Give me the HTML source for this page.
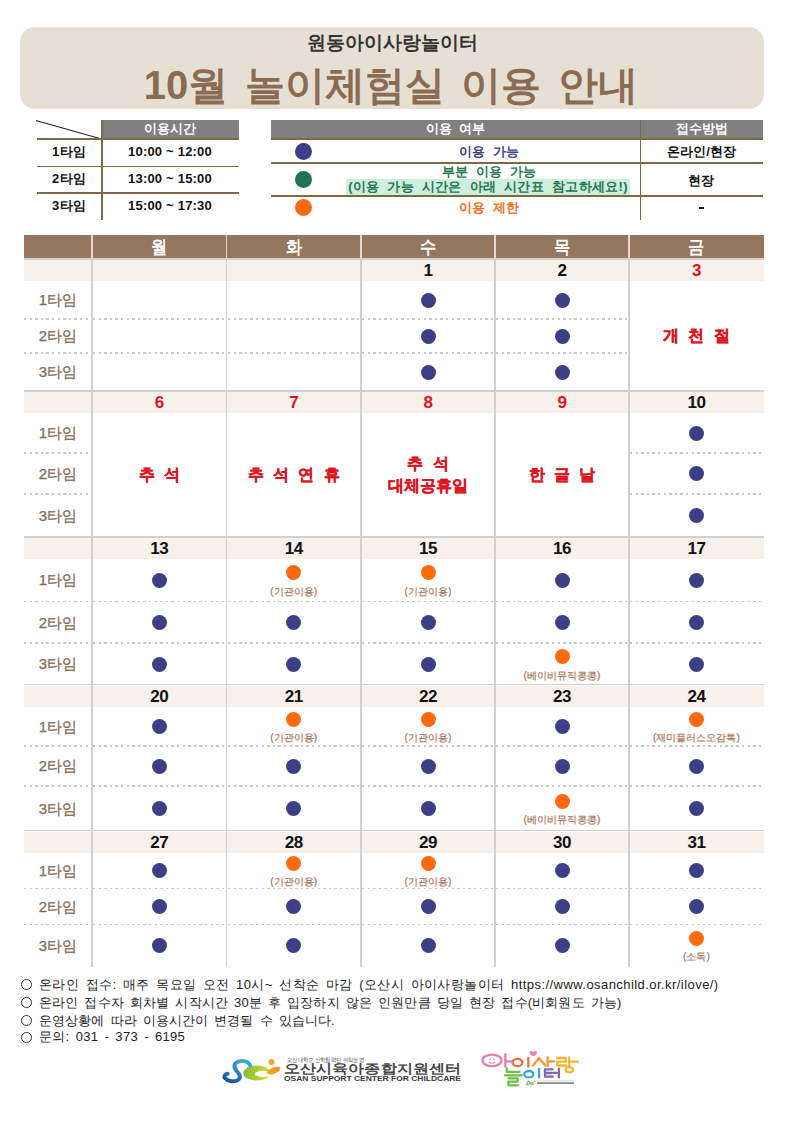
<!DOCTYPE html>
<html lang="ko"><head><meta charset="utf-8"><title>10월 놀이체험실 이용 안내</title>
<style>
html,body{margin:0;padding:0;background:#fff;}
body{width:793px;height:1122px;position:relative;overflow:hidden;font-family:"Liberation Sans",sans-serif;color:#222;}
.a{position:absolute;}
.t{position:absolute;white-space:nowrap;text-align:center;}
.hdr{left:20px;top:27px;width:744px;height:82px;border-radius:15px;background:#E6E0D4;}
.sub{left:20px;width:744px;top:30px;height:26px;line-height:26px;font-size:19px;font-weight:bold;color:#333;}
.ttl{top:61px;height:48px;line-height:48px;font-size:40px;font-weight:bold;color:#8B6B52;word-spacing:10px;}
.gh{background:#808080;}
.bl{background:#7A6A45;}
.th{color:#fff;font-weight:bold;font-size:13px;}
.tb{color:#111;font-weight:bold;font-size:13px;letter-spacing:0.2px;}
.dot{position:absolute;width:15px;height:15px;border-radius:50%;}
.nv{background:#3C3F86;}
.og{background:#FF6A0E;}
.gr{background:#1F7553;}
.ch{background:#957760;}
.dr{background:#F8F0EA;}
.vl{background:#D0D0D0;}
.hl{background:#D0D0D0;}
.dl{height:1.5px;background:repeating-linear-gradient(90deg,#C8C8C8 0,#C8C8C8 2.4px,transparent 2.4px,transparent 5.6px);}
.lab{color:#836A56;font-size:15px;-webkit-text-stroke:0.25px #836A56;}
.dt{color:#111;font-weight:bold;font-size:17px;letter-spacing:-0.4px;}
.red{color:#E0141E;}
.hol{color:#E0141E;font-weight:bold;font-size:16px;word-spacing:5px;-webkit-text-stroke:0.3px #E0141E;}
.ol{color:#A66C4E;font-size:10.3px;-webkit-text-stroke:0.15px #A66C4E;}
.ft{left:20px;font-size:13px;color:#222;text-align:left;}
</style></head><body>

<div class="a hdr"></div>
<div class="t sub">원동아이사랑놀이터</div>
<div class="t ttl" style="left:66px;width:240px">10월</div>
<div class="t ttl" style="left:224.5px;width:240px">놀이체험실</div>
<div class="t ttl" style="left:381px;width:240px">이용</div>
<div class="t ttl" style="left:478px;width:240px">안내</div>
<div class="a gh" style="left:101px;top:120px;width:138px;height:18px"></div>
<div class="t th" style="left:101px;top:120px;width:138px;height:18px;line-height:18px">이용시간</div>
<svg class="a" style="left:0;top:0" width="793" height="230"><line x1="36" y1="120.5" x2="101.5" y2="139" stroke="#222" stroke-width="1.1"/></svg>
<div class="a bl" style="left:37px;top:138px;width:202px;height:1.7px"></div>
<div class="a bl" style="left:37px;top:165.8px;width:202px;height:1.7px"></div>
<div class="a bl" style="left:37px;top:192.2px;width:202px;height:1.7px"></div>
<div class="a bl" style="left:101px;top:120px;width:1.7px;height:100px"></div>
<div class="t tb" style="left:37px;top:139.2px;width:64px;height:26.0px;line-height:26.0px">1타임</div>
<div class="t tb" style="left:101px;top:139.2px;width:138px;height:26.0px;line-height:26.0px">10:00 ~ 12:00</div>
<div class="t tb" style="left:37px;top:166.2px;width:64px;height:26.0px;line-height:26.0px">2타임</div>
<div class="t tb" style="left:101px;top:166.2px;width:138px;height:26.0px;line-height:26.0px">13:00 ~ 15:00</div>
<div class="t tb" style="left:37px;top:192.7px;width:64px;height:26.0px;line-height:26.0px">3타임</div>
<div class="t tb" style="left:101px;top:192.7px;width:138px;height:26.0px;line-height:26.0px">15:00 ~ 17:30</div>
<div class="a gh" style="left:271px;top:120px;width:492px;height:18px"></div>
<div class="t th" style="left:271px;top:120px;width:369px;height:18px;line-height:18px;word-spacing:4px">이용 여부</div>
<div class="t th" style="left:640px;top:120px;width:123px;height:18px;line-height:18px">접수방법</div>
<div class="a bl" style="left:271px;top:138px;width:492px;height:1.7px"></div>
<div class="a bl" style="left:271px;top:162px;width:492px;height:1.7px"></div>
<div class="a bl" style="left:271px;top:194.9px;width:492px;height:1.7px"></div>
<div class="a bl" style="left:639.5px;top:120px;width:1.5px;height:100px"></div>
<div class="dot nv" style="left:295px;top:142.5px;width:17px;height:17px"></div>
<div class="dot gr" style="left:295px;top:170.8px;width:17px;height:17px"></div>
<div class="dot og" style="left:295px;top:199.2px;width:17px;height:17px"></div>
<div class="t" style="left:339px;top:144px;width:300px;height:16px;line-height:16px;font-size:13px;font-weight:bold;color:#3C3F86;word-spacing:4px">이용 가능</div>
<div class="t" style="left:339px;top:163.5px;width:300px;height:15px;line-height:15px;font-size:13px;font-weight:bold;color:#1F7553;word-spacing:4px">부분 이용 가능</div>
<div class="a" style="left:346px;top:179px;width:284px;height:15.5px;background:#CDEFDD"></div>
<div class="t" style="left:339px;top:178.5px;width:298px;height:16px;line-height:16px;font-size:13px;font-weight:bold;color:#1F7553;word-spacing:4px;letter-spacing:0.3px">(이용 가능 시간은 아래 시간표 참고하세요!)</div>
<div class="t" style="left:339px;top:200px;width:300px;height:16px;line-height:16px;font-size:13px;font-weight:bold;color:#F07020;word-spacing:4px">이용 제한</div>
<div class="t tb" style="left:640px;top:140px;width:123px;height:23px;line-height:23px">온라인/현장</div>
<div class="t tb" style="left:640px;top:164.5px;width:123px;height:32px;line-height:32px">현장</div>
<div class="a" style="left:698.5px;top:206.5px;width:5.5px;height:2.2px;background:#111"></div>
<div class="a ch" style="left:24px;top:235px;width:740px;height:23px"></div>
<div class="t" style="left:92px;top:236px;width:134.5px;height:23px;line-height:23px;color:#fff;font-weight:bold;font-size:17.5px;transform:scaleX(0.9)">월</div>
<div class="t" style="left:226.5px;top:236px;width:134.5px;height:23px;line-height:23px;color:#fff;font-weight:bold;font-size:17.5px;transform:scaleX(0.9)">화</div>
<div class="t" style="left:361px;top:236px;width:134px;height:23px;line-height:23px;color:#fff;font-weight:bold;font-size:17.5px;transform:scaleX(0.9)">수</div>
<div class="t" style="left:495px;top:236px;width:134px;height:23px;line-height:23px;color:#fff;font-weight:bold;font-size:17.5px;transform:scaleX(0.9)">목</div>
<div class="t" style="left:629px;top:236px;width:135px;height:23px;line-height:23px;color:#fff;font-weight:bold;font-size:17.5px;transform:scaleX(0.9)">금</div>
<div class="a hl" style="left:24px;top:258px;width:740px;height:1.5px"></div>
<div class="a vl" style="left:762.5px;top:258px;width:1.5px;height:23px"></div>
<div class="a dr" style="left:24px;top:259.5px;width:740px;height:21.5px"></div>
<div class="t dt" style="left:361px;top:259.5px;width:134px;height:21.5px;line-height:21.5px">1</div>
<div class="t dt" style="left:495px;top:259.5px;width:134px;height:21.5px;line-height:21.5px">2</div>
<div class="t dt red" style="left:629px;top:259.5px;width:135px;height:21.5px;line-height:21.5px">3</div>
<div class="t lab" style="left:24px;top:281px;width:68px;height:38px;line-height:38px">1타임</div>
<div class="t lab" style="left:24px;top:319px;width:68px;height:34px;line-height:34px">2타임</div>
<div class="t lab" style="left:24px;top:353px;width:68px;height:38px;line-height:38px">3타임</div>
<div class="a dl" style="left:24px;top:318px;width:68px"></div>
<div class="a dl" style="left:24px;top:352px;width:68px"></div>
<div class="a dl" style="left:93px;top:318px;width:133.5px"></div>
<div class="a dl" style="left:93px;top:352px;width:133.5px"></div>
<div class="a dl" style="left:227.5px;top:318px;width:133.5px"></div>
<div class="a dl" style="left:227.5px;top:352px;width:133.5px"></div>
<div class="a dl" style="left:362px;top:318px;width:133px"></div>
<div class="a dl" style="left:362px;top:352px;width:133px"></div>
<div class="dot nv" style="left:420.5px;top:292.5px"></div>
<div class="dot nv" style="left:420.5px;top:328.5px"></div>
<div class="dot nv" style="left:420.5px;top:364.5px"></div>
<div class="a dl" style="left:496px;top:318px;width:133px"></div>
<div class="a dl" style="left:496px;top:352px;width:133px"></div>
<div class="dot nv" style="left:554.5px;top:292.5px"></div>
<div class="dot nv" style="left:554.5px;top:328.5px"></div>
<div class="dot nv" style="left:554.5px;top:364.5px"></div>
<div class="t hol" style="left:629px;top:326px;width:135px;height:20px;line-height:20px">개 천 절</div>
<div class="a dr" style="left:24px;top:392px;width:740px;height:21px"></div>
<div class="a hl" style="left:24px;top:390.2px;width:740px;height:1.6px"></div>
<div class="t dt red" style="left:92px;top:392px;width:134.5px;height:21px;line-height:21px">6</div>
<div class="t dt red" style="left:226.5px;top:392px;width:134.5px;height:21px;line-height:21px">7</div>
<div class="t dt red" style="left:361px;top:392px;width:134px;height:21px;line-height:21px">8</div>
<div class="t dt red" style="left:495px;top:392px;width:134px;height:21px;line-height:21px">9</div>
<div class="t dt" style="left:629px;top:392px;width:135px;height:21px;line-height:21px">10</div>
<div class="t lab" style="left:24px;top:413px;width:68px;height:40px;line-height:40px">1타임</div>
<div class="t lab" style="left:24px;top:453px;width:68px;height:41px;line-height:41px">2타임</div>
<div class="t lab" style="left:24px;top:494px;width:68px;height:43px;line-height:43px">3타임</div>
<div class="a dl" style="left:24px;top:452px;width:68px"></div>
<div class="a dl" style="left:24px;top:493px;width:68px"></div>
<div class="t hol" style="left:92px;top:465px;width:134.5px;height:20px;line-height:20px">추 석</div>
<div class="t hol" style="left:226.5px;top:465px;width:134.5px;height:20px;line-height:20px">추 석 연 휴</div>
<div class="t hol" style="left:361px;top:454px;width:134px;height:20px;line-height:20px">추 석</div>
<div class="t hol" style="left:361px;top:476px;width:134px;height:20px;line-height:20px">대체공휴일</div>
<div class="t hol" style="left:495px;top:465px;width:134px;height:20px;line-height:20px">한 글 날</div>
<div class="a dl" style="left:630px;top:452px;width:134px"></div>
<div class="a dl" style="left:630px;top:493px;width:134px"></div>
<div class="dot nv" style="left:689px;top:425.5px"></div>
<div class="dot nv" style="left:689px;top:466px"></div>
<div class="dot nv" style="left:689px;top:508px"></div>
<div class="a dr" style="left:24px;top:538px;width:740px;height:21px"></div>
<div class="a hl" style="left:24px;top:536.2px;width:740px;height:1.6px"></div>
<div class="t dt" style="left:92px;top:538px;width:134.5px;height:21px;line-height:21px">13</div>
<div class="t dt" style="left:226.5px;top:538px;width:134.5px;height:21px;line-height:21px">14</div>
<div class="t dt" style="left:361px;top:538px;width:134px;height:21px;line-height:21px">15</div>
<div class="t dt" style="left:495px;top:538px;width:134px;height:21px;line-height:21px">16</div>
<div class="t dt" style="left:629px;top:538px;width:135px;height:21px;line-height:21px">17</div>
<div class="t lab" style="left:24px;top:559px;width:68px;height:42.5px;line-height:42.5px">1타임</div>
<div class="t lab" style="left:24px;top:601.5px;width:68px;height:41.5px;line-height:41.5px">2타임</div>
<div class="t lab" style="left:24px;top:643px;width:68px;height:42px;line-height:42px">3타임</div>
<div class="a dl" style="left:24px;top:600.5px;width:68px"></div>
<div class="a dl" style="left:24px;top:642px;width:68px"></div>
<div class="a dl" style="left:93px;top:600.5px;width:133.5px"></div>
<div class="a dl" style="left:93px;top:642px;width:133.5px"></div>
<div class="dot nv" style="left:151.75px;top:572.75px"></div>
<div class="dot nv" style="left:151.75px;top:614.75px"></div>
<div class="dot nv" style="left:151.75px;top:656.5px"></div>
<div class="a dl" style="left:227.5px;top:600.5px;width:133.5px"></div>
<div class="a dl" style="left:227.5px;top:642px;width:133.5px"></div>
<div class="dot og" style="left:286.25px;top:565.25px"></div>
<div class="t ol" style="left:226.5px;top:585.75px;width:134.5px;height:12px;line-height:12px">(기관이용)</div>
<div class="dot nv" style="left:286.25px;top:614.75px"></div>
<div class="dot nv" style="left:286.25px;top:656.5px"></div>
<div class="a dl" style="left:362px;top:600.5px;width:133px"></div>
<div class="a dl" style="left:362px;top:642px;width:133px"></div>
<div class="dot og" style="left:420.5px;top:565.25px"></div>
<div class="t ol" style="left:361px;top:585.75px;width:134px;height:12px;line-height:12px">(기관이용)</div>
<div class="dot nv" style="left:420.5px;top:614.75px"></div>
<div class="dot nv" style="left:420.5px;top:656.5px"></div>
<div class="a dl" style="left:496px;top:600.5px;width:133px"></div>
<div class="a dl" style="left:496px;top:642px;width:133px"></div>
<div class="dot nv" style="left:554.5px;top:572.75px"></div>
<div class="dot nv" style="left:554.5px;top:614.75px"></div>
<div class="dot og" style="left:554.5px;top:649px"></div>
<div class="t ol" style="left:495px;top:669.5px;width:134px;height:12px;line-height:12px">(베이비뮤직콩콩)</div>
<div class="a dl" style="left:630px;top:600.5px;width:134px"></div>
<div class="a dl" style="left:630px;top:642px;width:134px"></div>
<div class="dot nv" style="left:689px;top:572.75px"></div>
<div class="dot nv" style="left:689px;top:614.75px"></div>
<div class="dot nv" style="left:689px;top:656.5px"></div>
<div class="a dr" style="left:24px;top:685.5px;width:740px;height:21.5px"></div>
<div class="a hl" style="left:24px;top:683.7px;width:740px;height:1.6px"></div>
<div class="t dt" style="left:92px;top:685.5px;width:134.5px;height:21.5px;line-height:21.5px">20</div>
<div class="t dt" style="left:226.5px;top:685.5px;width:134.5px;height:21.5px;line-height:21.5px">21</div>
<div class="t dt" style="left:361px;top:685.5px;width:134px;height:21.5px;line-height:21.5px">22</div>
<div class="t dt" style="left:495px;top:685.5px;width:134px;height:21.5px;line-height:21.5px">23</div>
<div class="t dt" style="left:629px;top:685.5px;width:135px;height:21.5px;line-height:21.5px">24</div>
<div class="t lab" style="left:24px;top:707px;width:68px;height:39px;line-height:39px">1타임</div>
<div class="t lab" style="left:24px;top:746px;width:68px;height:40px;line-height:40px">2타임</div>
<div class="t lab" style="left:24px;top:786px;width:68px;height:45px;line-height:45px">3타임</div>
<div class="a dl" style="left:24px;top:745px;width:68px"></div>
<div class="a dl" style="left:24px;top:785px;width:68px"></div>
<div class="a dl" style="left:93px;top:745px;width:133.5px"></div>
<div class="a dl" style="left:93px;top:785px;width:133.5px"></div>
<div class="dot nv" style="left:151.75px;top:719px"></div>
<div class="dot nv" style="left:151.75px;top:758.5px"></div>
<div class="dot nv" style="left:151.75px;top:801px"></div>
<div class="a dl" style="left:227.5px;top:745px;width:133.5px"></div>
<div class="a dl" style="left:227.5px;top:785px;width:133.5px"></div>
<div class="dot og" style="left:286.25px;top:711.5px"></div>
<div class="t ol" style="left:226.5px;top:732px;width:134.5px;height:12px;line-height:12px">(기관이용)</div>
<div class="dot nv" style="left:286.25px;top:758.5px"></div>
<div class="dot nv" style="left:286.25px;top:801px"></div>
<div class="a dl" style="left:362px;top:745px;width:133px"></div>
<div class="a dl" style="left:362px;top:785px;width:133px"></div>
<div class="dot og" style="left:420.5px;top:711.5px"></div>
<div class="t ol" style="left:361px;top:732px;width:134px;height:12px;line-height:12px">(기관이용)</div>
<div class="dot nv" style="left:420.5px;top:758.5px"></div>
<div class="dot nv" style="left:420.5px;top:801px"></div>
<div class="a dl" style="left:496px;top:745px;width:133px"></div>
<div class="a dl" style="left:496px;top:785px;width:133px"></div>
<div class="dot nv" style="left:554.5px;top:719px"></div>
<div class="dot nv" style="left:554.5px;top:758.5px"></div>
<div class="dot og" style="left:554.5px;top:793.5px"></div>
<div class="t ol" style="left:495px;top:814px;width:134px;height:12px;line-height:12px">(베이비뮤직콩콩)</div>
<div class="a dl" style="left:630px;top:745px;width:134px"></div>
<div class="a dl" style="left:630px;top:785px;width:134px"></div>
<div class="dot og" style="left:689px;top:711.5px"></div>
<div class="t ol" style="left:629px;top:732px;width:135px;height:12px;line-height:12px">(재미플러스오감톡)</div>
<div class="dot nv" style="left:689px;top:758.5px"></div>
<div class="dot nv" style="left:689px;top:801px"></div>
<div class="a dr" style="left:24px;top:831.5px;width:740px;height:21.5px"></div>
<div class="a hl" style="left:24px;top:829.7px;width:740px;height:1.6px"></div>
<div class="t dt" style="left:92px;top:831.5px;width:134.5px;height:21.5px;line-height:21.5px">27</div>
<div class="t dt" style="left:226.5px;top:831.5px;width:134.5px;height:21.5px;line-height:21.5px">28</div>
<div class="t dt" style="left:361px;top:831.5px;width:134px;height:21.5px;line-height:21.5px">29</div>
<div class="t dt" style="left:495px;top:831.5px;width:134px;height:21.5px;line-height:21.5px">30</div>
<div class="t dt" style="left:629px;top:831.5px;width:135px;height:21.5px;line-height:21.5px">31</div>
<div class="t lab" style="left:24px;top:853px;width:68px;height:35.5px;line-height:35.5px">1타임</div>
<div class="t lab" style="left:24px;top:888.5px;width:68px;height:36px;line-height:36px">2타임</div>
<div class="t lab" style="left:24px;top:924.5px;width:68px;height:42.5px;line-height:42.5px">3타임</div>
<div class="a dl" style="left:24px;top:887.5px;width:68px"></div>
<div class="a dl" style="left:24px;top:923.5px;width:68px"></div>
<div class="a dl" style="left:93px;top:887.5px;width:133.5px"></div>
<div class="a dl" style="left:93px;top:923.5px;width:133.5px"></div>
<div class="dot nv" style="left:151.75px;top:863.25px"></div>
<div class="dot nv" style="left:151.75px;top:899px"></div>
<div class="dot nv" style="left:151.75px;top:938.25px"></div>
<div class="a dl" style="left:227.5px;top:887.5px;width:133.5px"></div>
<div class="a dl" style="left:227.5px;top:923.5px;width:133.5px"></div>
<div class="dot og" style="left:286.25px;top:855.75px"></div>
<div class="t ol" style="left:226.5px;top:876.25px;width:134.5px;height:12px;line-height:12px">(기관이용)</div>
<div class="dot nv" style="left:286.25px;top:899px"></div>
<div class="dot nv" style="left:286.25px;top:938.25px"></div>
<div class="a dl" style="left:362px;top:887.5px;width:133px"></div>
<div class="a dl" style="left:362px;top:923.5px;width:133px"></div>
<div class="dot og" style="left:420.5px;top:855.75px"></div>
<div class="t ol" style="left:361px;top:876.25px;width:134px;height:12px;line-height:12px">(기관이용)</div>
<div class="dot nv" style="left:420.5px;top:899px"></div>
<div class="dot nv" style="left:420.5px;top:938.25px"></div>
<div class="a dl" style="left:496px;top:887.5px;width:133px"></div>
<div class="a dl" style="left:496px;top:923.5px;width:133px"></div>
<div class="dot nv" style="left:554.5px;top:863.25px"></div>
<div class="dot nv" style="left:554.5px;top:899px"></div>
<div class="dot nv" style="left:554.5px;top:938.25px"></div>
<div class="a dl" style="left:630px;top:887.5px;width:134px"></div>
<div class="a dl" style="left:630px;top:923.5px;width:134px"></div>
<div class="dot nv" style="left:689px;top:863.25px"></div>
<div class="dot nv" style="left:689px;top:899px"></div>
<div class="dot og" style="left:689px;top:930.75px"></div>
<div class="t ol" style="left:629px;top:951.25px;width:135px;height:12px;line-height:12px">(소독)</div>
<div class="a vl" style="left:91.25px;top:258px;width:1.5px;height:709px"></div>
<div class="a" style="left:91.25px;top:235px;width:1.5px;height:23px;background:#E6DACE"></div>
<div class="a vl" style="left:225.75px;top:258px;width:1.5px;height:709px"></div>
<div class="a" style="left:225.75px;top:235px;width:1.5px;height:23px;background:#E6DACE"></div>
<div class="a vl" style="left:360.25px;top:258px;width:1.5px;height:709px"></div>
<div class="a" style="left:360.25px;top:235px;width:1.5px;height:23px;background:#E6DACE"></div>
<div class="a vl" style="left:494.25px;top:258px;width:1.5px;height:709px"></div>
<div class="a" style="left:494.25px;top:235px;width:1.5px;height:23px;background:#E6DACE"></div>
<div class="a vl" style="left:628.25px;top:258px;width:1.5px;height:709px"></div>
<div class="a" style="left:628.25px;top:235px;width:1.5px;height:23px;background:#E6DACE"></div>
<div class="a" style="left:20.5px;top:979px;width:11px;height:11px;border:1px solid #333;border-radius:50%;box-sizing:border-box"></div>
<div class="t ft" id="ft0" style="left:39px;top:975.5px;height:18px;line-height:18px;word-spacing:2.3px;letter-spacing:0.44px">온라인 접수: 매주 목요일 오전 10시~ 선착순 마감 (오산시 아이사랑놀이터 https://www.osanchild.or.kr/ilove/)</div>
<div class="a" style="left:20.5px;top:997.2px;width:11px;height:11px;border:1px solid #333;border-radius:50%;box-sizing:border-box"></div>
<div class="t ft" id="ft1" style="left:39px;top:993.7px;height:18px;line-height:18px;word-spacing:2.3px;letter-spacing:0.14px">온라인 접수자 회차별 시작시간 30분 후 입장하지 않은 인원만큼 당일 현장 접수(비회원도 가능)</div>
<div class="a" style="left:20.5px;top:1015.3px;width:11px;height:11px;border:1px solid #333;border-radius:50%;box-sizing:border-box"></div>
<div class="t ft" id="ft2" style="left:39px;top:1011.8px;height:18px;line-height:18px;word-spacing:2.3px;letter-spacing:0.1px">운영상황에 따라 이용시간이 변경될 수 있습니다.</div>
<div class="a" style="left:20.5px;top:1031.7px;width:11px;height:11px;border:1px solid #333;border-radius:50%;box-sizing:border-box"></div>
<div class="t ft" id="ft3" style="left:39px;top:1028.2px;height:18px;line-height:18px;word-spacing:2.3px;letter-spacing:0.3px">문의: 031 - 373 - 6195</div>
<svg class="a" style="left:218px;top:1050px" width="70" height="35" viewBox="0 0 70 35">
<defs>
<linearGradient id="gb" x1="0" y1="1" x2="0.6" y2="0"><stop offset="0" stop-color="#1C4F98"/><stop offset="1" stop-color="#39A6DD"/></linearGradient>
<linearGradient id="gg" x1="0" y1="0" x2="1" y2="0"><stop offset="0" stop-color="#7DBE3A"/><stop offset="1" stop-color="#D7E12A"/></linearGradient>
<linearGradient id="go" x1="0" y1="1" x2="1" y2="0"><stop offset="0" stop-color="#F6B21E"/><stop offset="1" stop-color="#F08A1E"/></linearGradient>
</defs>
<ellipse cx="38.8" cy="23" rx="13.6" ry="7.6" fill="url(#gg)"/>
<ellipse cx="45.5" cy="23.9" rx="8.6" ry="3.1" fill="#fff"/>
<path d="M32.3 15.6 C30 11 25 10.3 21 11.4 C16 12.8 15 16.5 18.5 20.8 C21.5 24.2 24 27.5 19.5 30.2 C15 32.3 9.5 31 6.8 28 C5.6 26.4 6.8 24.2 9.6 23.8" fill="none" stroke="url(#gb)" stroke-width="3.9" stroke-linecap="round"/>
<circle cx="53.5" cy="12.1" r="3" fill="#F5A524"/>
<path d="M48.3 22.2 C52 18.3 58 15.6 62 17.4 C63.3 20 58.5 23.8 51.5 24.8 Z" fill="url(#go)"/>
</svg>
<svg class="a" style="left:280px;top:1052px" width="190" height="32" viewBox="0 0 190 32">
<text x="7" y="9.5" font-family="Liberation Sans, sans-serif" font-size="5.5" fill="#555" textLength="77" lengthAdjust="spacingAndGlyphs">오산대학교 산학협력단 위탁운영</text>
<text x="4" y="21" font-family="Liberation Sans, sans-serif" font-size="12.5" font-weight="bold" fill="#444" textLength="177" lengthAdjust="spacingAndGlyphs">오산시육아종합지원센터</text>
<text x="4" y="28.6" font-family="Liberation Sans, sans-serif" font-size="7" font-weight="bold" fill="#3A3A3A" textLength="177" lengthAdjust="spacingAndGlyphs">OSAN SUPPORT CENTER FOR CHILDCARE</text>
</svg>
<svg class="a" style="left:478px;top:1046px" width="104" height="44" viewBox="0 0 104 44">
<g fill="none" stroke-linecap="round" stroke-linejoin="round">
<g stroke="#E57DB6" stroke-width="2.3">
<ellipse cx="14" cy="14.4" rx="9.5" ry="5.8"/>
<path d="M27.3 8.3 V20.8"/><path d="M28.2 15.3 H33.5"/>
</g>
<path d="M11.2 16.2 Q14 18.2 16.8 16.2" stroke="#E57DB6" stroke-width="1.1"/>
<g stroke="#EC6F45" stroke-width="2.3">
<ellipse cx="39.5" cy="16.5" rx="4.9" ry="3.7"/>
<path d="M50.3 11.8 V20.6"/>
</g>
<g stroke="#F29A2E" stroke-width="2.3">
<path d="M61 12 L55 19.6 M61 12 L67.3 19.6"/>
<path d="M69.6 11.4 V20.2"/><path d="M70.5 15.3 H76"/>
</g>
<g stroke="#F5B436" stroke-width="2.3">
<path d="M79 12 H87.8 V15.7 H79.2 V19.5 H88.5"/>
<path d="M91.2 11.4 V20.6"/><path d="M92.2 15.7 H100"/>
<ellipse cx="91.3" cy="23.8" rx="3.9" ry="2.6"/>
</g>
<g stroke="#6DBE45" stroke-width="2.3">
<path d="M28.8 22.4 V25.8 H41.5"/>
<path d="M27 29.3 H43.8"/>
<path d="M30.4 32.3 H39.6 V35.6 H30.4 V39.3 H39.9"/>
</g>
<g stroke="#3BA5DC" stroke-width="2.3">
<ellipse cx="50.8" cy="28.2" rx="4.5" ry="3.2"/>
<path d="M61 22.9 V31.4"/>
</g>
<g stroke="#7E68B0" stroke-width="2.3">
<path d="M74.5 23.4 H67 V30.7 H74.8 M67.2 27 H74"/>
<path d="M75.5 26.8 H79"/><path d="M80.9 22.6 V31.4"/>
</g>
</g>
<circle cx="12.2" cy="13.2" r="0.8" fill="#E57DB6"/><circle cx="15.9" cy="13.2" r="0.8" fill="#E57DB6"/>
<path d="M55.3 10.6 C50.5 7.5 51 4.8 53.2 4.9 C54.3 5 55 5.7 55.3 6.3 C55.6 5.7 56.3 5 57.4 4.9 C59.6 4.8 60.1 7.5 55.3 10.6 Z" fill="#F07BBE"/>
<path d="M49.5 38.8 C48 35.5 50.8 34.3 51.8 36 C52.2 37.8 49.2 39.6 48.2 38" fill="none" stroke="#2A7BC2" stroke-width="0.9"/>
<ellipse cx="54" cy="37.5" rx="2.2" ry="1.5" fill="#9CCB3B"/>
<circle cx="56.6" cy="35.4" r="0.8" fill="#F5A21E"/>
<rect x="59" y="34.6" width="37" height="0.7" fill="#c4c4c4"/>
<rect x="59" y="36.2" width="37" height="1.8" fill="#8a8a8a"/>
</svg>

</body></html>
